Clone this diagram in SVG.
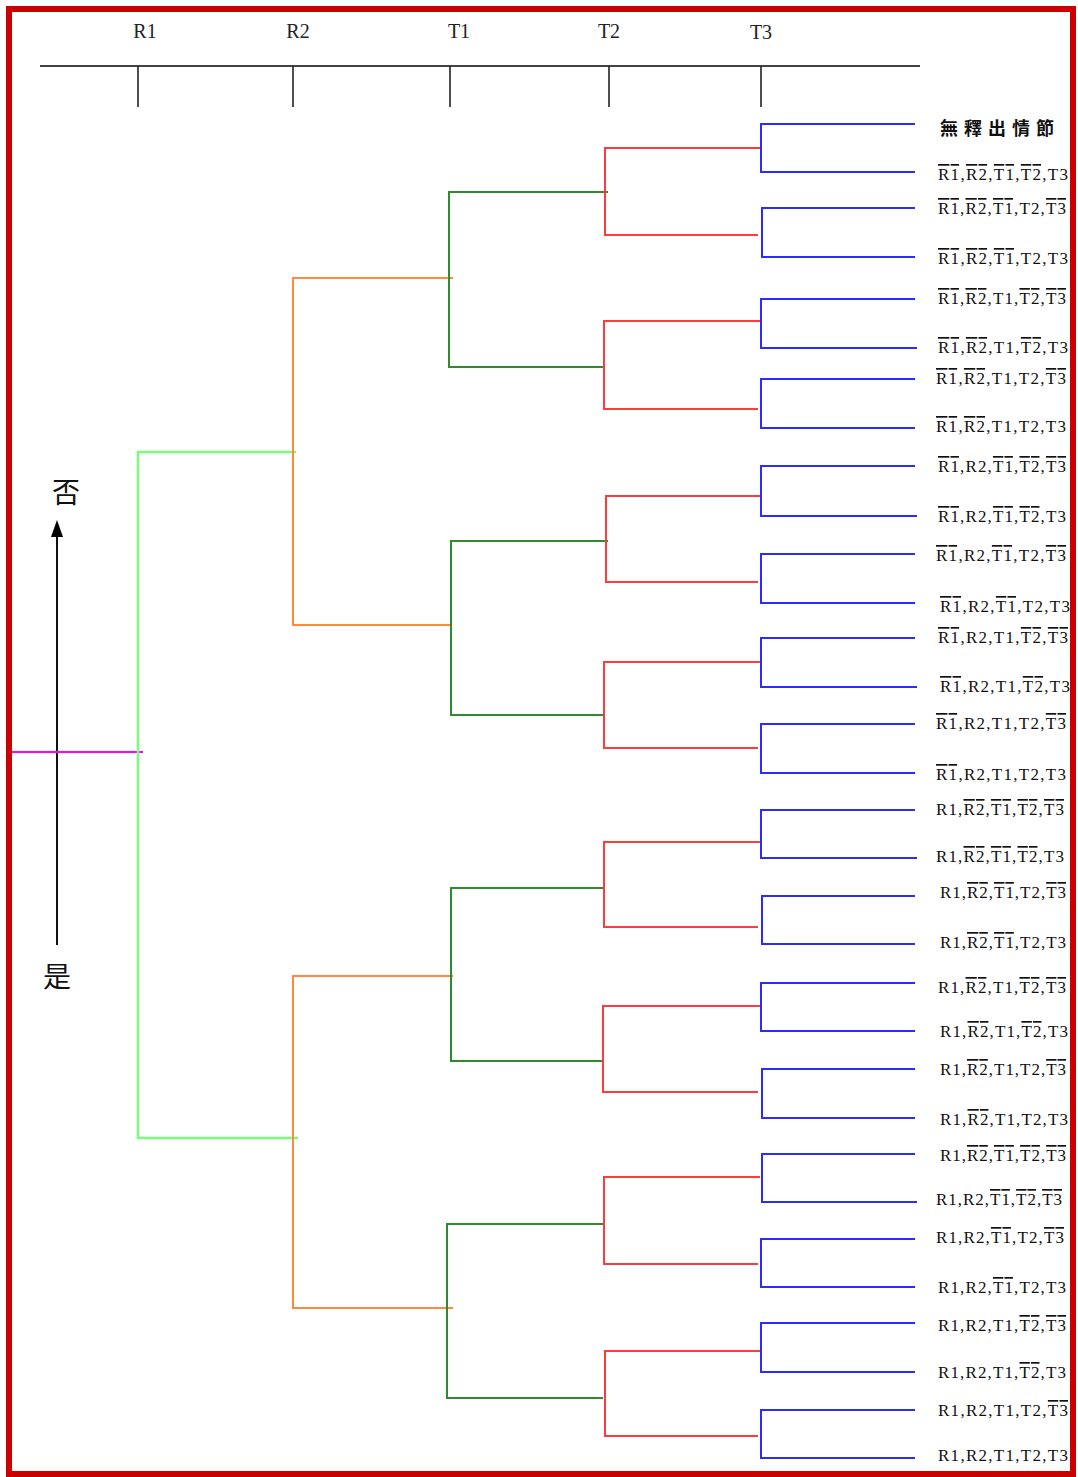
<svg xmlns="http://www.w3.org/2000/svg" width="1078" height="1477" viewBox="0 0 1078 1477">
<style>
.hdr{font-family:"Liberation Serif",serif;font-size:20px;fill:#222}
.lbl{font-family:"Liberation Serif",serif;font-size:17px;fill:#111}
.o{text-decoration:overline}
.cjk{font-family:"Noto Sans CJK TC","Noto Sans CJK SC",sans-serif;fill:#111}
.ax{stroke:#444;stroke-width:2;fill:none}
.tk{stroke:#222;stroke-width:1.6;fill:none}
.m{stroke:#ff00ff;stroke-width:2;fill:none}
.g1{stroke:#7cfc7c;stroke-width:2.5;fill:none}
.or{stroke:#ff8a3d;stroke-width:2;fill:none}
.g2{stroke:#2e8b2e;stroke-width:2;fill:none}
.r{stroke:#ff3b3b;stroke-width:2;fill:none}
.b{stroke:#2b2bff;stroke-width:2;fill:none}
</style>
<rect x="0" y="0" width="1078" height="1477" fill="#fff"/>
<rect x="9" y="9" width="1064" height="1465" fill="none" stroke="#cc0000" stroke-width="6"/>
<g id="header">
<line class="ax" x1="40" y1="66" x2="920" y2="66"/>
<line class="tk" x1="138" y1="66" x2="138" y2="107"/>
<line class="tk" x1="293" y1="66" x2="293" y2="107"/>
<line class="tk" x1="450" y1="66" x2="450" y2="107"/>
<line class="tk" x1="609" y1="66" x2="609" y2="107"/>
<line class="tk" x1="761" y1="66" x2="761" y2="107"/>
<text class="hdr" x="145" y="38" text-anchor="middle">R1</text>
<text class="hdr" x="298" y="38" text-anchor="middle">R2</text>
<text class="hdr" x="459" y="38" text-anchor="middle">T1</text>
<text class="hdr" x="609" y="38" text-anchor="middle">T2</text>
<text class="hdr" x="761" y="39" text-anchor="middle">T3</text>
</g>
<g id="axis-arrow">
<line x1="57" y1="945" x2="57" y2="534" stroke="#111" stroke-width="2"/>
<path d="M51,537 L57,520 L63,537 Z" fill="#000"/>
<text class="cjk" x="66" y="503" font-size="28" text-anchor="middle">否</text>
<text class="cjk" x="57" y="987" font-size="28" text-anchor="middle">是</text>
</g>
<g id="connectors">
<line class="m" x1="12" y1="752" x2="143" y2="752"/>
<path class="g1" d="M296,452 H138 V1138 H298"/>
<path class="or" d="M453,278 H293 V625 H450"/>
<path class="or" d="M453,976 H293 V1308 H453"/>
<path class="g2" d="M608,192 H449 V367 H603"/>
<path class="g2" d="M608,541 H451 V715 H603"/>
<path class="g2" d="M603,888 H451 V1061 H603"/>
<path class="g2" d="M603,1224 H447 V1398 H603"/>
<path class="r" d="M760,148 H605 V235 H758"/>
<path class="r" d="M760,321 H604 V409 H758"/>
<path class="r" d="M760,496 H606 V582 H758"/>
<path class="r" d="M760,662 H604 V748 H758"/>
<path class="r" d="M760,842 H604 V927 H758"/>
<path class="r" d="M760,1006 H603 V1092 H758"/>
<path class="r" d="M760,1177 H604 V1264 H758"/>
<path class="r" d="M760,1351 H605 V1436 H758"/>
<path class="b" d="M915,124 H761 V172 H915"/>
<path class="b" d="M915,208 H762 V257 H915"/>
<path class="b" d="M915,299 H761 V348 H917"/>
<path class="b" d="M915,379 H761 V428 H915"/>
<path class="b" d="M915,466 H761 V516 H917"/>
<path class="b" d="M915,554 H761 V603 H915"/>
<path class="b" d="M915,638 H761 V687 H917"/>
<path class="b" d="M915,724 H761 V773 H915"/>
<path class="b" d="M915,810 H761 V858 H917"/>
<path class="b" d="M915,896 H762 V944 H915"/>
<path class="b" d="M915,983 H761 V1031 H915"/>
<path class="b" d="M915,1069 H762 V1118 H915"/>
<path class="b" d="M915,1154 H762 V1202 H917"/>
<path class="b" d="M915,1239 H761 V1287 H915"/>
<path class="b" d="M915,1323 H761 V1372 H915"/>
<path class="b" d="M915,1410 H761 V1458 H915"/>
</g>
<g id="leaf-labels">
<text class="cjk" x="940" y="135" font-size="18" font-weight="bold" letter-spacing="6">無釋出情節</text>
<text class="lbl" x="938" y="180" textLength="130" lengthAdjust="spacing"><tspan class="o">R1</tspan>,<tspan class="o">R2</tspan>,<tspan class="o">T1</tspan>,<tspan class="o">T2</tspan>,T3</text>
<text class="lbl" x="938" y="214" textLength="128" lengthAdjust="spacing"><tspan class="o">R1</tspan>,<tspan class="o">R2</tspan>,<tspan class="o">T1</tspan>,T2,<tspan class="o">T3</tspan></text>
<text class="lbl" x="938" y="264" textLength="130" lengthAdjust="spacing"><tspan class="o">R1</tspan>,<tspan class="o">R2</tspan>,<tspan class="o">T1</tspan>,T2,T3</text>
<text class="lbl" x="938" y="304" textLength="128" lengthAdjust="spacing"><tspan class="o">R1</tspan>,<tspan class="o">R2</tspan>,T1,<tspan class="o">T2</tspan>,<tspan class="o">T3</tspan></text>
<text class="lbl" x="938" y="353" textLength="130" lengthAdjust="spacing"><tspan class="o">R1</tspan>,<tspan class="o">R2</tspan>,T1,<tspan class="o">T2</tspan>,T3</text>
<text class="lbl" x="936" y="384" textLength="130" lengthAdjust="spacing"><tspan class="o">R1</tspan>,<tspan class="o">R2</tspan>,T1,T2,<tspan class="o">T3</tspan></text>
<text class="lbl" x="936" y="432" textLength="130" lengthAdjust="spacing"><tspan class="o">R1</tspan>,<tspan class="o">R2</tspan>,T1,T2,T3</text>
<text class="lbl" x="938" y="472" textLength="128" lengthAdjust="spacing"><tspan class="o">R1</tspan>,R2,<tspan class="o">T1</tspan>,<tspan class="o">T2</tspan>,<tspan class="o">T3</tspan></text>
<text class="lbl" x="938" y="522" textLength="128" lengthAdjust="spacing"><tspan class="o">R1</tspan>,R2,<tspan class="o">T1</tspan>,<tspan class="o">T2</tspan>,T3</text>
<text class="lbl" x="936" y="561" textLength="130" lengthAdjust="spacing"><tspan class="o">R1</tspan>,R2,<tspan class="o">T1</tspan>,T2,<tspan class="o">T3</tspan></text>
<text class="lbl" x="940" y="612" textLength="130" lengthAdjust="spacing"><tspan class="o">R1</tspan>,R2,<tspan class="o">T1</tspan>,T2,T3</text>
<text class="lbl" x="938" y="643" textLength="130" lengthAdjust="spacing"><tspan class="o">R1</tspan>,R2,T1,<tspan class="o">T2</tspan>,<tspan class="o">T3</tspan></text>
<text class="lbl" x="940" y="692" textLength="130" lengthAdjust="spacing"><tspan class="o">R1</tspan>,R2,T1,<tspan class="o">T2</tspan>,T3</text>
<text class="lbl" x="936" y="729" textLength="130" lengthAdjust="spacing"><tspan class="o">R1</tspan>,R2,T1,T2,<tspan class="o">T3</tspan></text>
<text class="lbl" x="936" y="780" textLength="130" lengthAdjust="spacing"><tspan class="o">R1</tspan>,R2,T1,T2,T3</text>
<text class="lbl" x="936" y="815" textLength="128" lengthAdjust="spacing">R1,<tspan class="o">R2</tspan>,<tspan class="o">T1</tspan>,<tspan class="o">T2</tspan>,<tspan class="o">T3</tspan></text>
<text class="lbl" x="936" y="862" textLength="128" lengthAdjust="spacing">R1,<tspan class="o">R2</tspan>,<tspan class="o">T1</tspan>,<tspan class="o">T2</tspan>,T3</text>
<text class="lbl" x="940" y="898" textLength="126" lengthAdjust="spacing">R1,<tspan class="o">R2</tspan>,<tspan class="o">T1</tspan>,T2,<tspan class="o">T3</tspan></text>
<text class="lbl" x="940" y="948" textLength="126" lengthAdjust="spacing">R1,<tspan class="o">R2</tspan>,<tspan class="o">T1</tspan>,T2,T3</text>
<text class="lbl" x="938" y="993" textLength="128" lengthAdjust="spacing">R1,<tspan class="o">R2</tspan>,T1,<tspan class="o">T2</tspan>,<tspan class="o">T3</tspan></text>
<text class="lbl" x="940" y="1037" textLength="128" lengthAdjust="spacing">R1,<tspan class="o">R2</tspan>,T1,<tspan class="o">T2</tspan>,T3</text>
<text class="lbl" x="940" y="1075" textLength="126" lengthAdjust="spacing">R1,<tspan class="o">R2</tspan>,T1,T2,<tspan class="o">T3</tspan></text>
<text class="lbl" x="940" y="1125" textLength="128" lengthAdjust="spacing">R1,<tspan class="o">R2</tspan>,T1,T2,T3</text>
<text class="lbl" x="940" y="1161" textLength="126" lengthAdjust="spacing">R1,<tspan class="o">R2</tspan>,<tspan class="o">T1</tspan>,<tspan class="o">T2</tspan>,<tspan class="o">T3</tspan></text>
<text class="lbl" x="936" y="1205" textLength="126" lengthAdjust="spacing">R1,R2,<tspan class="o">T1</tspan>,<tspan class="o">T2</tspan>,<tspan class="o">T3</tspan></text>
<text class="lbl" x="936" y="1243" textLength="128" lengthAdjust="spacing">R1,R2,<tspan class="o">T1</tspan>,T2,<tspan class="o">T3</tspan></text>
<text class="lbl" x="938" y="1293" textLength="128" lengthAdjust="spacing">R1,R2,<tspan class="o">T1</tspan>,T2,T3</text>
<text class="lbl" x="938" y="1331" textLength="128" lengthAdjust="spacing">R1,R2,T1,<tspan class="o">T2</tspan>,<tspan class="o">T3</tspan></text>
<text class="lbl" x="938" y="1378" textLength="128" lengthAdjust="spacing">R1,R2,T1,<tspan class="o">T2</tspan>,T3</text>
<text class="lbl" x="938" y="1416" textLength="130" lengthAdjust="spacing">R1,R2,T1,T2,<tspan class="o">T3</tspan></text>
<text class="lbl" x="938" y="1461" textLength="130" lengthAdjust="spacing">R1,R2,T1,T2,T3</text>
</g>
</svg>
